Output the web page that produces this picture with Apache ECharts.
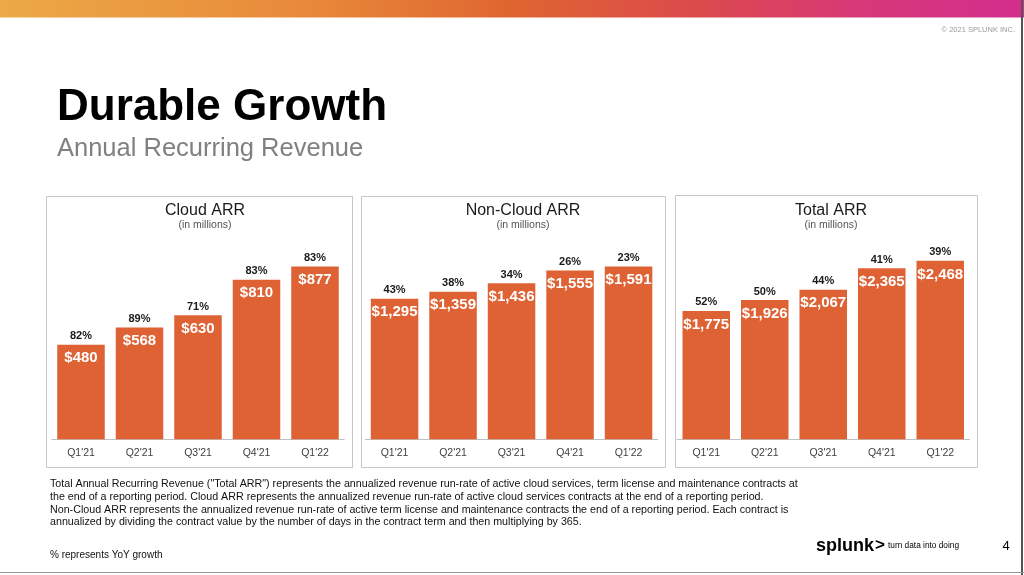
<!DOCTYPE html>
<html><head><meta charset="utf-8">
<script src="https://cdn.jsdelivr.net/npm/echarts@6/dist/echarts.min.js"></script>
<style>html,body{margin:0;padding:0;background:#fff}#c{width:1024px;height:575px}</style>
</head><body><div id="c"></div>
<script>
var categories = ["Q1'21", "Q2'21", "Q3'21", "Q4'21", "Q1'22"];
var cloudArr = [480, 568, 630, 810, 877];
var cloudGrowth = [82, 89, 71, 83, 83];
var nonCloudArr = [1295, 1359, 1436, 1555, 1591];
var nonCloudGrowth = [43, 38, 34, 26, 23];
var totalArr = [1775, 1926, 2067, 2365, 2468];
var totalGrowth = [52, 50, 44, 41, 39];
var chartTitles = ["Cloud ARR", "Non-Cloud ARR", "Total ARR"];
var footnoteLines = [
  "Total Annual Recurring Revenue (\"Total ARR\") represents the annualized revenue run-rate of active cloud services, term license and maintenance contracts at",
  "the end of a reporting period. Cloud ARR represents the annualized revenue run-rate of active cloud services contracts at the end of a reporting period.",
  "Non-Cloud ARR represents the annualized revenue run-rate of active term license and maintenance contracts the end of a reporting period. Each contract is",
  "annualized by dividing the contract value by the number of days in the contract term and then multiplying by 365."
];

var FONT = "'Liberation Sans', Arial, sans-serif";
var BAR = '#DE6233';
var panels = [
  {vals: cloudArr, growth: cloudGrowth, max: 1000, left: 51.75, box: [46, 196, 306, 271], tx: 205},
  {vals: nonCloudArr, growth: nonCloudGrowth, max: 1800, left: 365.3, box: [361, 196, 304, 271], tx: 523},
  {vals: totalArr, growth: totalGrowth, max: 2700, left: 677, box: [675, 195, 302, 272], tx: 831}
];

var grids = [], xAxes = [], yAxes = [], series = [], graphics = [];

graphics.push({type: 'rect', shape: {x: 0, y: 0, width: 1024, height: 17.5}, style: {fill: new echarts.graphic.LinearGradient(0, 0, 1, 0, [
  {offset: 0, color: '#ECA946'}, {offset: 0.3, color: '#E8893A'}, {offset: 0.5, color: '#DF6530'},
  {offset: 0.68, color: '#DB4A4C'}, {offset: 0.85, color: '#D6387A'}, {offset: 1, color: '#D42D8E'}])}, silent: true});
graphics.push({type: 'text', style: {text: '\u00A9 2021 SPLUNK INC.', x: 1015, y: 30, textAlign: 'right', textVerticalAlign: 'middle', font: '7.5px ' + FONT, fill: '#9a9a9a'}});
graphics.push({type: 'text', style: {text: 'Durable Growth', x: 57, y: 130, textAlign: 'left', textVerticalAlign: 'bottom', font: 'bold 44px ' + FONT, fill: '#000'}});
graphics.push({type: 'text', style: {text: 'Annual Recurring Revenue', x: 57, y: 149, textAlign: 'left', textVerticalAlign: 'middle', font: '25.5px ' + FONT, fill: '#808080'}});

panels.forEach(function (p, i) {
  graphics.push({type: 'rect', shape: {x: p.box[0] + 0.5, y: p.box[1] + 0.5, width: p.box[2], height: p.box[3]}, style: {fill: 'none', stroke: '#c6c6c6', lineWidth: 1}, silent: true});
  graphics.push({type: 'text', style: {text: chartTitles[i], x: p.tx, y: 211, textAlign: 'center', textVerticalAlign: 'middle', font: '16px ' + FONT, fill: '#1a1a1a'}});
  graphics.push({type: 'text', style: {text: '(in millions)', x: p.tx, y: 225, textAlign: 'center', textVerticalAlign: 'middle', font: '10.5px ' + FONT, fill: '#555'}});
  var h = p.max * [0.1969, 0.1086, 0.0723][i];
  grids.push({left: p.left, width: 292.5, top: 439.3 - h, height: h});
  xAxes.push({type: 'category', gridIndex: i, data: categories, axisTick: {show: false},
    axisLine: {lineStyle: {color: '#c0c0c0', width: 1}},
    axisLabel: {color: '#404040', fontSize: 10.5, fontFamily: FONT, margin: 8}});
  yAxes.push({type: 'value', gridIndex: i, min: 0, max: p.max, show: false, splitLine: {show: false}});
  series.push({type: 'bar', xAxisIndex: i, yAxisIndex: i, data: p.vals, barWidth: 47.5,
    itemStyle: {color: BAR}, silent: true,
    label: {show: true, position: 'insideTop', distance: 6, color: '#fff', fontWeight: 'bold', fontSize: 15, fontFamily: FONT,
      formatter: function (d) { return '$' + d.value.toLocaleString('en-US'); }}});
  series.push({type: 'bar', xAxisIndex: i, yAxisIndex: i, data: p.vals, barWidth: 47.5, barGap: '-100%',
    itemStyle: {color: 'rgba(0,0,0,0)'}, silent: true, z: 3,
    label: {show: true, position: 'top', distance: 3, color: '#1a1a1a', fontWeight: 'bold', fontSize: 11, fontFamily: FONT,
      formatter: (function (g) { return function (d) { return g[d.dataIndex] + '%'; }; })(p.growth)}});
});

footnoteLines.forEach(function (t, k) {
  graphics.push({type: 'text', style: {text: t, x: 50, y: 484.5 + k * 12.6, textAlign: 'left', textVerticalAlign: 'middle', font: '10.7px ' + FONT, fill: '#111'}});
});
graphics.push({type: 'text', style: {text: '% represents YoY growth', x: 50, y: 555.5, textAlign: 'left', textVerticalAlign: 'middle', font: '10px ' + FONT, fill: '#111'}});
graphics.push({type: 'text', style: {text: 'splunk', x: 816, y: 546, textAlign: 'left', textVerticalAlign: 'middle', font: 'bold 18px ' + FONT, fill: '#000'}});
graphics.push({type: 'text', style: {text: '>', x: 875, y: 545, textAlign: 'left', textVerticalAlign: 'middle', font: 'bold 17px ' + FONT, fill: '#000'}});
graphics.push({type: 'text', style: {text: 'turn data into doing', x: 888, y: 546, textAlign: 'left', textVerticalAlign: 'middle', font: '8.3px ' + FONT, fill: '#000'}});
graphics.push({type: 'text', style: {text: '4', x: 1006, y: 546, textAlign: 'center', textVerticalAlign: 'middle', font: '13px ' + FONT, fill: '#000'}});
graphics.push({type: 'rect', shape: {x: 1021, y: 0, width: 2, height: 575}, style: {fill: '#555'}, silent: true});
graphics.push({type: 'rect', shape: {x: 0, y: 572, width: 1024, height: 1}, style: {fill: '#999'}, silent: true});

var chart = echarts.init(document.getElementById('c'), null, {renderer: 'canvas'});
chart.setOption({
  animation: false,
  backgroundColor: '#fff',
  grid: grids, xAxis: xAxes, yAxis: yAxes, series: series,
  graphic: graphics
});
</script></body></html>
